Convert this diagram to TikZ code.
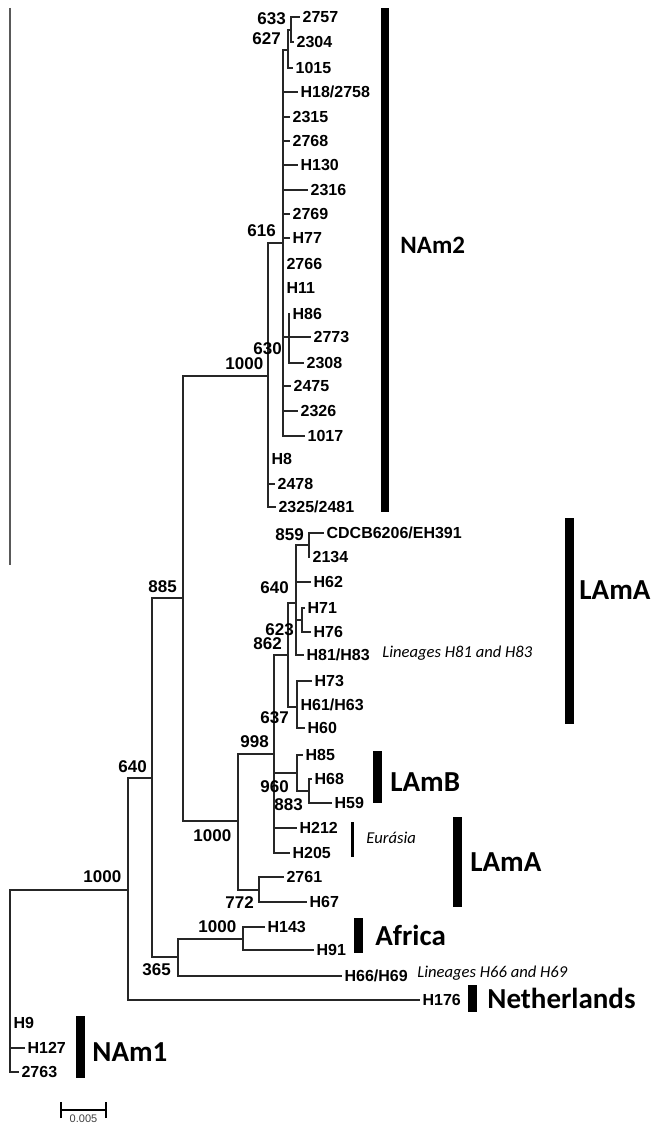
\documentclass[tikz,border=0pt]{standalone}
\usepackage{fontspec}
\setmainfont{Liberation Sans}
\newfontfamily\cladefont{Carlito}
\begin{document}
\begin{tikzpicture}[x=0.5pt,y=-0.5pt,
  br/.style={draw=black!85, line width=0.6pt, line cap=rect},
  tip/.style={anchor=west, inner sep=1.6pt, text height=5.8pt, text depth=0pt,
              font=\bfseries\fontsize{8}{9.6}\selectfont},
  bs/.style={anchor=west, inner sep=0pt, text height=5.8pt, text depth=0pt,
             font=\bfseries\fontsize{8.5}{10}\selectfont},
  cbar/.style={fill=black, draw=none},
  clade/.style={anchor=west, inner sep=0pt, font=\cladefont\bfseries\fontsize{14.5}{16}\selectfont},
  note/.style={anchor=west, inner sep=0pt, font=\cladefont\itshape\fontsize{8.3}{10}\selectfont}]
\useasboundingbox (0,0) rectangle (655,1123);

% stray rule on the left margin
\draw[gray!70!black, line width=0.55pt] (10,8) -- (10,565);

% ---------- internal nodes ----------
\coordinate (n633) at (291,30);
\coordinate (n627) at (288,50);
\coordinate (n616) at (283,243);
\coordinate (n86) at (289,337);
\coordinate (n630) at (268,376);
\coordinate (n885) at (183,598);
\coordinate (n640) at (152,778);
\coordinate (n1000a) at (128,890);
\coordinate (root) at (10,890);
\coordinate (n365) at (178,957);
\coordinate (nafr) at (243,939);
\coordinate (nlam) at (238,821);
\coordinate (n998) at (274,754);
\coordinate (n862) at (288,655);
\coordinate (n640b) at (296,603);
\coordinate (n859) at (309,545);
\coordinate (n623) at (302,620);
\coordinate (nB) at (297,707);
\coordinate (nLB) at (297,773);
\coordinate (n68) at (309,791);
\coordinate (n772) at (259,890);

% ---------- tips: NAm2 ----------
\node[tip] (t2757) at (299,17) {2757};
\node[tip] (t2304) at (293,42) {2304};
\node[tip] (t1015) at (292,68) {1015};
\node[tip] (tH18) at (297,92) {H18/2758};
\node[tip] (t2315) at (289,117) {2315};
\node[tip] (t2768) at (289,141) {2768};
\node[tip] (tH130) at (297,165) {H130};
\node[tip] (t2316) at (307,190) {2316};
\node[tip] (t2769) at (289,214) {2769};
\node[tip] (tH77) at (289,238) {H77};
\node[tip] (t2766) at (283,264) {2766};
\node[tip] (tH11) at (283,288) {H11};
\node[tip] (tH86) at (289,314) {H86};
\node[tip] (t2773) at (310,337) {2773};
\node[tip] (t2308) at (303,363) {2308};
\node[tip] (t2475) at (290,386) {2475};
\node[tip] (t2326) at (297,411) {2326};
\node[tip] (t1017) at (304,436) {1017};
\node[tip] (tH8) at (268,459) {H8};
\node[tip] (t2478) at (274,484) {2478};
\node[tip] (t2325) at (275,507) {2325/2481};

% ---------- tips: LAm ----------
\node[tip] (tCDCB) at (323,533) {CDCB6206/EH391};
\node[tip] (t2134) at (309,557) {2134};
\node[tip] (tH62) at (310,582) {H62};
\node[tip] (tH71) at (304,608) {H71};
\node[tip] (tH76) at (310,632) {H76};
\node[tip] (tH81) at (303,655) {H81/H83};
\node[tip] (tH73) at (311,681) {H73};
\node[tip] (tH6163) at (297,705) {H61/H63};
\node[tip] (tH60) at (304,728) {H60};
\node[tip] (tH85) at (302,755) {H85};
\node[tip] (tH68) at (311,779) {H68};
\node[tip] (tH59) at (331,803) {H59};
\node[tip] (tH212) at (296,828) {H212};
\node[tip] (tH205) at (289,853) {H205};
\node[tip] (t2761) at (283,877) {2761};
\node[tip] (tH67) at (306,902) {H67};

% ---------- tips: outgroups ----------
\node[tip] (tH143) at (264,927) {H143};
\node[tip] (tH91) at (313,950) {H91};
\node[tip] (tH66) at (341,976) {H66/H69};
\node[tip] (tH176) at (419,1000) {H176};
\node[tip] (tH9) at (10,1023) {H9};
\node[tip] (tH127) at (24,1048) {H127};
\node[tip] (t2763) at (18,1072) {2763};

% ---------- branches: NAm2 ----------
\draw[br] (t2757.west) -| (n633 |- t2304.west) -- (t2304.west);
\draw[br] (n627 |- n633) -- (n633);
\draw[br] (n627 |- n633) -- (n627 |- t1015.west) -- (t1015.west);
\draw[br] (n627) -- (n616 |- n627) -- (n616 |- t1017.west) -- (t1017.west);
\foreach \t in {tH18,t2315,t2768,tH130,t2316,t2769,tH77,t2475,t2326}
  \draw[br] (n616 |- \t.west) -- (\t.west);
\draw[br] (tH86.west) -- (n86 |- t2308.west) -- (t2308.west);
\draw[br] (n616 |- n86) -- (n86) -- (t2773.west);
\draw[br] (n616) -- (n630 |- n616) -- (n630 |- t2325.west) -- (t2325.west);
\draw[br] (n630 |- t2478.west) -- (t2478.west);

% ---------- branches: backbone ----------
\draw[br] (n630) -- (n885 |- n630) -- (n885 |- nlam) -- (nlam);
\draw[br] (n885) -- (n640 |- n885) -- (n640 |- n365) -- (n365);
\draw[br] (n640) -- (n1000a |- n640) -- (n1000a |- tH176.west) -- (tH176.west);
\draw[br] (root) -- (n1000a);
\draw[br] (root) -- (root |- t2763.west) -- (t2763.west);
\draw[br] (root |- tH127.west) -- (tH127.west);

% ---------- branches: Africa and H66/H69 ----------
\draw[br] (nafr) -- (n365 |- nafr) -- (n365 |- tH66.west) -- (tH66.west);
\draw[br] (tH143.west) -| (nafr |- tH91.west) -- (tH91.west);

% ---------- branches: LAm ----------
\draw[br] (n998) -- (nlam |- n998) -- (nlam |- n772) -- (n772);
\draw[br] (t2761.west) -| (n772 |- tH67.west) -- (tH67.west);
\draw[br] (n862) -- (n998 |- n862) -- (n998 |- tH205.west) -- (tH205.west);
\draw[br] (n998 |- nLB) -- (nLB);
\draw[br] (n998 |- tH212.west) -- (tH212.west);
\draw[br] (n640b) -- (n862 |- n640b) -- (n862 |- nB) -- (nB);
\draw[br] (n859) -- (n640b |- n859) -- (n640b |- tH81.west) -- (tH81.west);
\draw[br] (n640b |- tH62.west) -- (tH62.west);
\draw[br] (n640b |- n623) -- (n623);
\draw[br] (tCDCB.west) -| (n859 |- t2134.west);
\draw[br] (tH71.west) -| (n623 |- tH76.west) -- (tH76.west);
\draw[br] (tH73.west) -| (nB |- tH60.west) -- (tH60.west);
\draw[br] (tH85.west) -| (nLB |- n68) -- (n68);
\draw[br] (tH68.west) -| (n68 |- tH59.west) -- (tH59.west);

% ---------- bootstrap values ----------
\node[bs] (b633) at (257,19) {633};
\node[bs] (b627) at (252,39) {627};
\node[bs] (b616) at (247,231) {616};
\node[bs] (b630) at (253,349) {630};
\node[bs] (b1000n) at (225,364) {1000};
\node[bs] (b859) at (275,535) {859};
\node[bs] (b640b) at (260,588) {640};
\node[bs] (b623) at (265,630) {623};
\node[bs] (b862) at (253,644) {862};
\node[bs] (b637) at (260,718) {637};
\node[bs] (b998) at (240,742) {998};
\node[bs] (b960) at (260,787) {960};
\node[bs] (b883) at (274,805) {883};
\node[bs] (b1000l) at (193,836) {1000};
\node[bs] (b772) at (225,903) {772};
\node[bs] (b885) at (148,587) {885};
\node[bs] (b640) at (118,767) {640};
\node[bs] (b1000f) at (198,927) {1000};
\node[bs] (b365) at (142,970) {365};
\node[bs] (b1000r) at (83,877) {1000};

% ---------- clade bars and names ----------
\fill[cbar] (381,8) rectangle (389,512);
\node[clade, font=\cladefont\bfseries\fontsize{12.5}{14}\selectfont] (lNAm2) at (400,245) {NAm2};
\fill[cbar] (565,518) rectangle (574,724);
\node[clade] (lLAmA1) at (579,590) {LAmA};
\node[note] (nL8183) at (382,653) {Lineages H81 and H83};
\fill[cbar] (373,751) rectangle (382,803);
\node[clade] (lLAmB) at (390,782) {LAmB};
\fill[cbar] (351,822) rectangle (354,857);
\node[note] (lEur) at (366,838) {Eurásia};
\fill[cbar] (453,817) rectangle (462,907);
\node[clade] (lLAmA2) at (470,862) {LAmA};
\fill[cbar] (354,918) rectangle (363,953);
\node[clade] (lAfr) at (375,935) {Africa};
\node[note] (nL6669) at (417,973) {Lineages H66 and H69};
\fill[cbar] (468,985) rectangle (477,1012);
\node[clade] (lNeth) at (487,998) {Netherlands};
\fill[cbar] (76,1016) rectangle (85,1078);
\node[clade] (lNAm1) at (92,1052) {NAm1};

% ---------- scale bar ----------
\coordinate (sbL) at (61,1110);
\coordinate (sbR) at (106,1110);
\draw[line width=0.6pt] (sbL) -- (sbR);
\draw[line width=0.6pt] ([yshift=-4]sbL) -- ([yshift=4]sbL);
\draw[line width=0.6pt] ([yshift=-4]sbR) -- ([yshift=4]sbR);
\node[inner sep=0pt, font=\fontsize{5.5}{6}\selectfont, text=black!75] (sbT) at (83.5,1119) {0.005};
\end{tikzpicture}
\end{document}
